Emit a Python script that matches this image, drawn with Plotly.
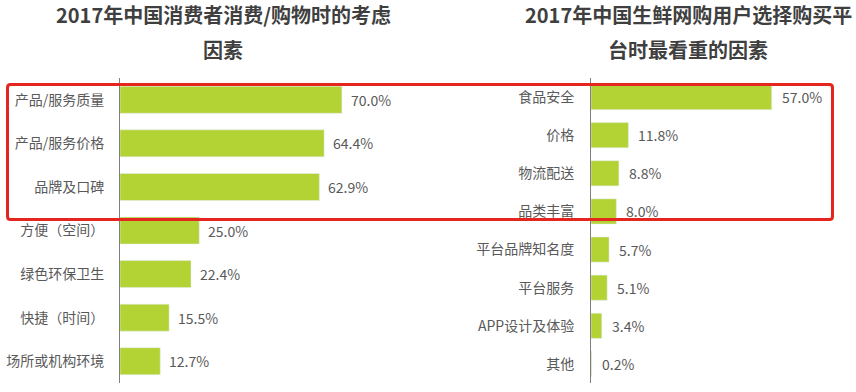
import plotly.graph_objects as go

W, H = 856, 392

left_title = ["2017年中国消费者消费/购物时的考虑", "因素"]
left_cats = ["产品/服务质量", "产品/服务价格", "品牌及口碑", "方便（空间）", "绿色环保卫生", "快捷（时间）", "场所或机构环境"]
left_vals = [70.0, 64.4, 62.9, 25.0, 22.4, 15.5, 12.7]

right_title = ["2017年中国生鲜网购用户选择购买平", "台时最看重的因素"]
right_cats = ["食品安全", "价格", "物流配送", "品类丰富", "平台品牌知名度", "平台服务", "APP设计及体验", "其他"]
right_vals = [57.0, 11.8, 8.8, 8.0, 5.7, 5.1, 3.4, 0.2]

BAR = "#b3d335"
TXT = "#595959"
TITLE = "#3f3f3f"
FONT = "Noto Sans CJK SC, Microsoft YaHei, sans-serif"
PXPER = 3.17  # pixels per percent

def px(x):
    return x / W

def py(y):
    return 1 - y / H

fig = go.Figure()
fig.add_trace(go.Bar(x=left_vals, y=left_cats, orientation="h", marker_color=BAR,
                     width=0.62, xaxis="x", yaxis="y", hoverinfo="skip"))
fig.add_trace(go.Bar(x=right_vals, y=right_cats, orientation="h", marker_color=BAR,
                     width=0.66, xaxis="x2", yaxis="y2", hoverinfo="skip"))

annotations = []
for v, c in zip(left_vals, left_cats):
    annotations.append(dict(x=v, y=c, xref="x", yref="y", text=f"{v:.1f}%", showarrow=False,
                            xanchor="left", xshift=7, font=dict(size=14, color=TXT, family=FONT)))
for v, c in zip(right_vals, right_cats):
    annotations.append(dict(x=v, y=c, xref="x2", yref="y2", text=f"{v:.1f}%", showarrow=False,
                            xanchor="left", xshift=8, font=dict(size=14, color=TXT, family=FONT)))

for i, line in enumerate(left_title):
    annotations.append(dict(x=px(223), y=py(15 + 34 * i), xref="paper", yref="paper", text=f"<b>{line}</b>",
                            showarrow=False, xanchor="center", yanchor="middle",
                            font=dict(size=20, color=TITLE, family=FONT)))
for i, line in enumerate(right_title):
    annotations.append(dict(x=px(688), y=py(15 + 34 * i), xref="paper", yref="paper", text=f"<b>{line}</b>",
                            showarrow=False, xanchor="center", yanchor="middle",
                            font=dict(size=20, color=TITLE, family=FONT)))

lx0, lx1 = 120, 410
rx0, rx1 = 591, 850
ytop, ybot = 78, 383

# rounded highlight rectangle
x0, x1, y0, y1, r = 7.5, 832.5, 84.5, 219.5, 3
path = (f"M {px(x0+r)},{py(y0)} L {px(x1-r)},{py(y0)} Q {px(x1)},{py(y0)} {px(x1)},{py(y0+r)} "
        f"L {px(x1)},{py(y1-r)} Q {px(x1)},{py(y1)} {px(x1-r)},{py(y1)} "
        f"L {px(x0+r)},{py(y1)} Q {px(x0)},{py(y1)} {px(x0)},{py(y1-r)} "
        f"L {px(x0)},{py(y0+r)} Q {px(x0)},{py(y0)} {px(x0+r)},{py(y0)} Z")

fig.update_layout(
    width=W, height=H,
    margin=dict(l=0, r=0, t=0, b=0),
    paper_bgcolor="white", plot_bgcolor="white",
    showlegend=False,
    hovermode=False,
    font=dict(family=FONT, color=TXT, size=14),
    xaxis=dict(domain=[px(lx0), px(lx1)], range=[0, (lx1 - lx0) / PXPER], visible=False, fixedrange=True),
    yaxis=dict(domain=[py(ybot), py(ytop)], anchor="x", autorange="reversed", showline=True,
               linecolor="#7f7f7f", linewidth=1, showgrid=False, zeroline=False, ticks="",
               ticklabelstandoff=12, tickfont=dict(size=14, color=TXT, family=FONT), fixedrange=True),
    xaxis2=dict(domain=[px(rx0), px(rx1)], range=[0, (rx1 - rx0) / PXPER], visible=False, fixedrange=True,
                anchor="y2"),
    yaxis2=dict(domain=[py(ybot), py(ytop)], anchor="x2", autorange="reversed", showline=True,
                linecolor="#7f7f7f", linewidth=1, showgrid=False, zeroline=False, ticks="",
                ticklabelstandoff=13, tickfont=dict(size=14, color=TXT, family=FONT), fixedrange=True),
    annotations=annotations,
    shapes=[dict(type="path", path=path, xref="paper", yref="paper",
                 line=dict(color="#e4261f", width=3), fillcolor="rgba(0,0,0,0)", layer="above")],
)

fig.write_html("out.html", config={"displayModeBar": False, "staticPlot": True})

# remove default browser body margin so the figure sits at the page origin
with open("out.html", "r", encoding="utf-8") as f:
    html = f.read()
html = html.replace("<head>", "<head><style>html,body{margin:0;padding:0;overflow:hidden;}</style>", 1)
with open("out.html", "w", encoding="utf-8") as f:
    f.write(html)
